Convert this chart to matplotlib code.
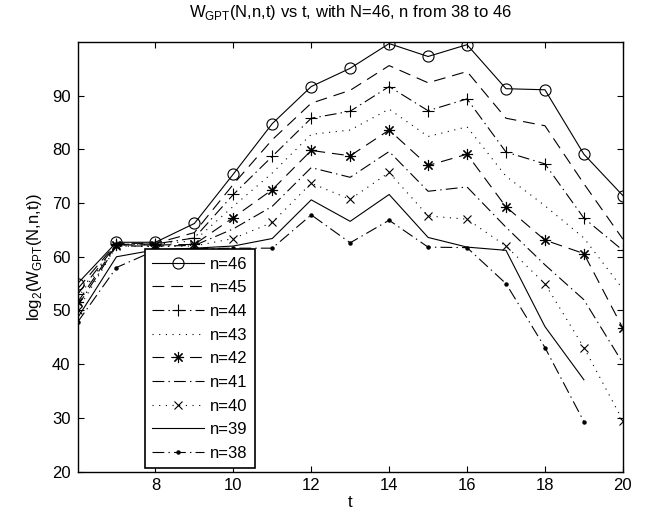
import matplotlib
matplotlib.use("Agg")
import matplotlib.pyplot as plt

# t values and log2 W_GPT(N,n,t) per n
t_full = list(range(6, 21))   # n >= 40
t_short = list(range(6, 20))  # n = 38, 39

w46 = [55.0, 62.7, 62.7, 66.2, 75.4, 84.8, 91.7, 95.1, 99.7, 97.3, 99.5, 91.3, 91.1, 79.1, 71.4]
w45 = [54.0, 62.5, 62.5, 64.5, 73.5, 81.8, 88.6, 91.0, 95.6, 92.4, 94.5, 85.8, 84.4, 73.6, 63.3]
w44 = [53.0, 62.3, 62.4, 63.5, 71.6, 78.7, 85.8, 87.1, 91.7, 87.2, 89.4, 79.5, 77.3, 67.2, 61.2]
w43 = [52.3, 62.2, 62.3, 63.0, 69.4, 75.6, 82.8, 83.6, 87.5, 82.4, 84.2, 75.0, 69.5, 63.5, 54.0]
w42 = [51.5, 62.2, 62.2, 62.3, 67.3, 72.5, 79.8, 78.8, 83.6, 77.0, 79.1, 69.3, 63.1, 60.6, 46.7]
w41 = [50.8, 62.0, 62.0, 62.1, 65.2, 69.4, 76.6, 74.8, 79.6, 72.2, 73.0, 65.5, 58.5, 52.0, 40.2]
w40 = [50.0, 62.0, 61.9, 62.0, 63.4, 66.4, 73.7, 70.7, 75.7, 67.6, 67.0, 62.0, 55.0, 43.1, 29.5]
w39 = [48.6, 60.0, 61.3, 61.6, 62.0, 63.4, 70.6, 66.6, 71.6, 63.6, 61.8, 61.2, 47.0, 37.1]
w38 = [47.8, 58.0, 61.2, 61.5, 61.6, 61.6, 67.8, 62.6, 66.8, 61.8, 61.7, 55.0, 43.1, 29.3]

labels = ["n=46", "n=45", "n=44", "n=43", "n=42", "n=41", "n=40", "n=39", "n=38"]

plt.rcParams["font.family"] = ["Liberation Sans", "DejaVu Sans"]
plt.rcParams["font.size"] = 12
plt.rcParams["lines.scale_dashes"] = False

DASH = (0, (8.5, 5))
DASHDOT = (0, (8.5, 3, 1, 3))
DOT = (0, (0.8, 4))

fig = plt.figure(figsize=(6.57, 5.12), dpi=100)
ax = fig.add_axes([0.118, 0.079, 0.830, 0.839])

lw = 0.8
k = dict(color="black", lw=lw, mfc="none", mec="black", mew=0.8)
ax.plot(t_full, w46, linestyle="-", marker="o", ms=8, **k)
ax.plot(t_full, w45, linestyle=DASH, **k)
ax.plot(t_full, w44, linestyle=DASHDOT, marker="+", ms=9, **k)
ax.plot(t_full, w43, linestyle=DOT, **k)
ax.plot(t_full, w42, linestyle=DASH, marker=(8, 2, 0), ms=8, **k)
ax.plot(t_full, w41, linestyle=DASHDOT, **k)
ax.plot(t_full, w40, linestyle=DOT, marker="x", ms=6, **k)
ax.plot(t_short, w39, linestyle="-", **k)
ax.plot(t_short, w38, linestyle=DASHDOT, marker="o", ms=2.2,
        color="black", lw=lw, mfc="black", mec="black")

ax.set_xlim(6, 20)
ax.set_ylim(20, 100)
ax.set_xticks(range(8, 21, 2))
ax.set_yticks(range(20, 91, 10))
ax.tick_params(direction="in", length=4, top=True, right=True, width=0.8,
               labelsize=12)
ax.tick_params(axis="x", pad=5)
ax.tick_params(axis="y", pad=5)
for s in ax.spines.values():
    s.set_linewidth(1.0)

ax.set_title(r"W$_{\mathregular{GPT}}$(N,n,t) vs t, with N=46, n from 38 to 46", fontsize=12, pad=18)
ax.set_xlabel("t", labelpad=1)
ax.set_ylabel(r"log$_{\mathregular{2}}$(W$_{\mathregular{GPT}}$(N,n,t))", labelpad=6)

leg = ax.legend(labels, loc="lower left", bbox_to_anchor=(0.108, -0.012),
                handlelength=3.1, handletextpad=0.35, labelspacing=0.52,
                borderpad=0.45, fancybox=False, framealpha=1, edgecolor="black",
                fontsize=12)
leg.get_frame().set_linewidth(1.2)

fig.savefig("out.png", dpi=100)
